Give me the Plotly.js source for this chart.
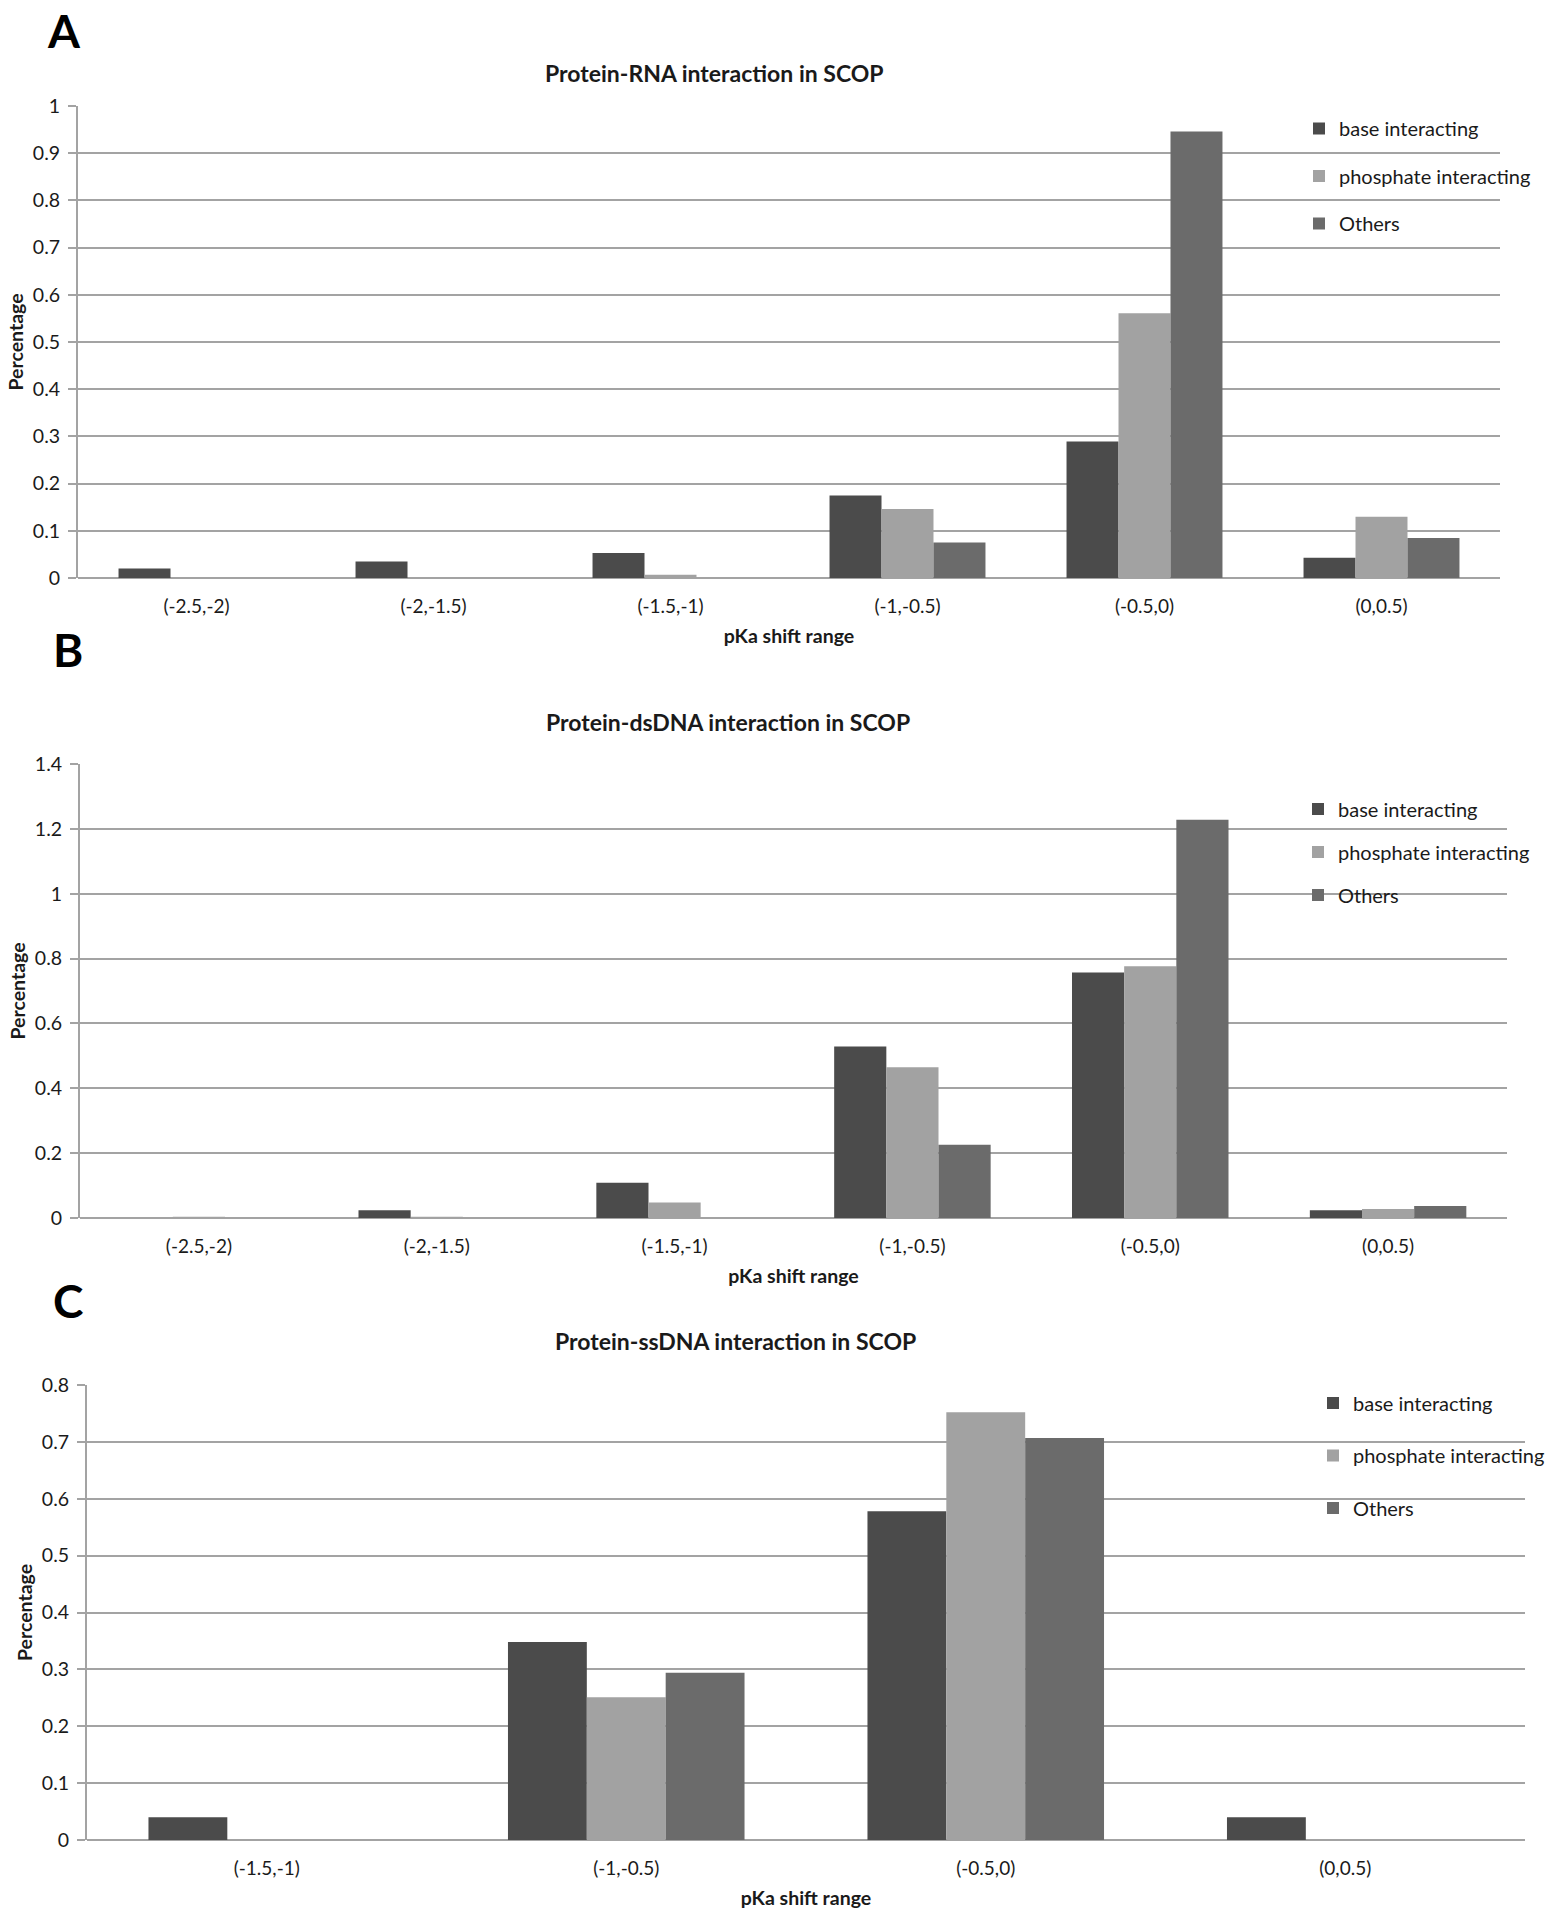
<!DOCTYPE html>
<html>
<head>
<meta charset="utf-8">
<script src="https://cdn.plot.ly/plotly-3.0.1.min.js"></script>
<style>html,body{margin:0;padding:0;background:#fff;} #chart{width:1550px;height:1920px;}</style>
</head>
<body>
<div id="chart"></div>
<script>
// ---- Data ----
const seriesNames = ["base interacting", "phosphate interacting", "Others"];
const colors = ["#4b4b4b", "#a2a2a2", "#6b6b6b"];

const catsA = ["(-2.5,-2)", "(-2,-1.5)", "(-1.5,-1)", "(-1,-0.5)", "(-0.5,0)", "(0,0.5)"];
const baseA = [0.020, 0.035, 0.053, 0.175, 0.289, 0.043];
const phosA = [0, 0, 0.007, 0.146, 0.561, 0.130];
const othA  = [0, 0, 0, 0.075, 0.946, 0.085];

const catsB = ["(-2.5,-2)", "(-2,-1.5)", "(-1.5,-1)", "(-1,-0.5)", "(-0.5,0)", "(0,0.5)"];
const baseB = [0, 0.024, 0.109, 0.529, 0.757, 0.024];
const phosB = [0.004, 0.004, 0.048, 0.465, 0.776, 0.028];
const othB  = [0, 0, 0, 0.226, 1.228, 0.037];

const catsC = ["(-1.5,-1)", "(-1,-0.5)", "(-0.5,0)", "(0,0.5)"];
const baseC = [0.040, 0.348, 0.578, 0.040];
const phosC = [0, 0.251, 0.752, 0];
const othC  = [0, 0.294, 0.707, 0];

const titles = ["Protein-RNA interaction in SCOP", "Protein-dsDNA interaction in SCOP", "Protein-ssDNA interaction in SCOP"];
const letters = ["A", "B", "C"];
const xTitle = "pKa shift range";
const yTitle = "Percentage";

// ---- Layout helpers ----
const W = 1550, H = 1920;
const px = x => x / W;
const py = y => 1 - y / H;
const FONT = "Lato, 'Open Sans', sans-serif";
const TXT = "#1a1a1a";
const GRID = "#a3a3a3";

const panels = [
  {cats: catsA, vals: [baseA, phosA, othA], x0: 78, x1: 1500, yt: 106, yb: 578, range: [0, 1], dtick: 0.1,
   title: {x: 714, y: 73}, letter: {x: 64, y: 30}, legend: {x: 1299, y: 109, gap: 18.5}},
  {cats: catsB, vals: [baseB, phosB, othB], x0: 80, x1: 1507, yt: 764, yb: 1218, range: [0, 1.4], dtick: 0.2,
   title: {x: 728, y: 722}, letter: {x: 68, y: 649}, legend: {x: 1298, y: 789.5, gap: 14}},
  {cats: catsC, vals: [baseC, phosC, othC], x0: 87, x1: 1525, yt: 1385, yb: 1840, range: [0, 0.8], dtick: 0.1,
   title: {x: 735, y: 1341}, letter: {x: 68, y: 1300}, legend: {x: 1313, y: 1383.5, gap: 23.5}}
];

const traces = [];
const layout = {
  width: W, height: H,
  margin: {l: 0, r: 0, t: 0, b: 0},
  paper_bgcolor: "#fff", plot_bgcolor: "#fff",
  font: {family: FONT, color: TXT, size: 18},
  barmode: "group", bargap: 0.342, bargroupgap: 0,
  annotations: []
};

panels.forEach((p, i) => {
  const n = i === 0 ? "" : String(i + 1);
  const xa = "x" + n, ya = "y" + n;
  const legendId = "legend" + n;
  for (let s = 0; s < 3; s++) {
    traces.push({
      type: "bar", x: p.cats, y: p.vals[s], name: seriesNames[s],
      xaxis: xa, yaxis: ya, legend: legendId, legendgroup: "g" + i + "_" + s,
      marker: {color: colors[s], line: {width: 0}},
      showlegend: true, hoverinfo: "x+y+name"
    });
  }
  layout["xaxis" + n] = {
    domain: [px(p.x0), px(p.x1)], anchor: ya, type: "category",
    showgrid: false, zeroline: false, showline: false, ticks: "",
    ticklabelstandoff: 15,
    tickfont: {size: 19, color: TXT, family: FONT},
    title: {text: xTitle, font: {size: 19.5, color: TXT, family: FONT, weight: "bold"}, standoff: 13},
    fixedrange: true
  };
  layout["yaxis" + n] = {
    domain: [py(p.yb), py(p.yt)], anchor: xa, range: p.range, dtick: p.dtick, tick0: 0,
    showgrid: true, gridcolor: GRID, gridwidth: 2,
    zeroline: true, zerolinecolor: GRID, zerolinewidth: 2,
    showline: true, linecolor: GRID, linewidth: 2,
    ticks: "outside", ticklen: 8, tickcolor: GRID, tickwidth: 2,
    ticklabelstandoff: 4,
    tickfont: {size: 19.5, color: TXT, family: FONT},
    title: {text: yTitle, font: {size: 19.5, color: TXT, family: FONT, weight: "bold"}, standoff: 4},
    fixedrange: true
  };
  layout[legendId] = {
    x: px(p.legend.x), y: py(p.legend.y), xanchor: "left", yanchor: "top",
    bgcolor: "rgba(0,0,0,0)", borderwidth: 0,
    font: {size: 20, color: TXT, family: FONT},
    tracegroupgap: p.legend.gap, traceorder: "grouped", itemclick: false, itemdoubleclick: false
  };
  layout.annotations.push({
    xref: "paper", yref: "paper", x: px(p.title.x), y: py(p.title.y), xanchor: "center", yanchor: "middle",
    text: "<b>" + titles[i] + "</b>", showarrow: false, font: {size: 23, color: TXT, family: FONT}
  });
  layout.annotations.push({
    xref: "paper", yref: "paper", x: px(p.letter.x), y: py(p.letter.y), xanchor: "center", yanchor: "middle",
    text: "<b>" + letters[i] + "</b>", showarrow: false, font: {size: 46, color: "#000", family: FONT}
  });
});

Plotly.newPlot("chart", traces, layout, {displayModeBar: false, staticPlot: true});
</script>
</body>
</html>
